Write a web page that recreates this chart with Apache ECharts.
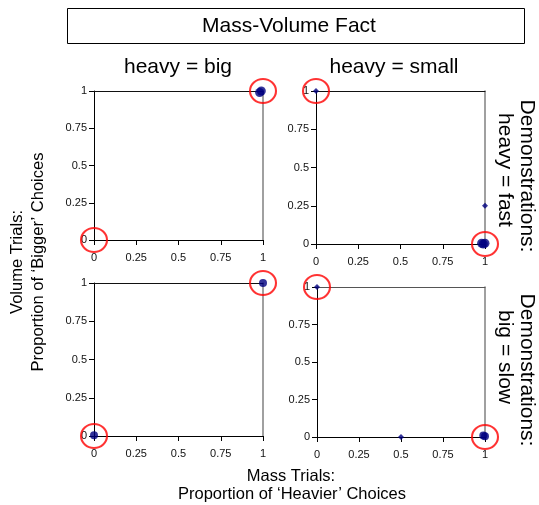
<!DOCTYPE html>
<html>
<head>
<meta charset="utf-8">
<script src="https://cdn.jsdelivr.net/npm/echarts@6/dist/echarts.min.js"></script>
<style>
html,body{margin:0;padding:0;background:#fff;}
#c{width:539px;height:505px;}
</style>
</head>
<body>
<div id="c"></div>
<script>
// ---- data ----
const chartTitle = 'Mass-Volume Fact';
const colTitles = ['heavy = big', 'heavy = small'];
const rowTitles = ['heavy = fast', 'big = slow'];
const rowHeader = 'Demonstrations:';
const xLabelLines = ['Mass Trials:', 'Proportion of \u2018Heavier\u2019 Choices'];
const yLabelLines = ['Volume Trials:', 'Proportion of \u2018Bigger\u2019 Choices'];
const tickValues = [0, 0.25, 0.5, 0.75, 1];

// panel 1: heavy = big / heavy = fast
const p1Single = [];
const p1Cluster = [[0.98, 0.99], [0.99, 1]];
const p1Rings = [[0, 0], [1, 1]];
// panel 2: heavy = small / heavy = fast
const p2Single = [[0, 1], [1, 0.25]];
const p2Cluster = [[0.98, 0.005], [1, 0.005], [0.99, 0]];
const p2Rings = [[0, 1], [1, 0]];
// panel 3: heavy = big / big = slow
const p3Single = [];
const p3Cluster = [[1, 1], [0, 0.005]];
const p3Rings = [[0, 0], [1, 1]];
// panel 4: heavy = small / big = slow
const p4Single = [[0, 1], [0.5, 0]];
const p4Cluster = [[0.99, 0.01], [1, 0.005]];
const p4Rings = [[0, 1], [1, 0]];

const panels = [
  {single: p1Single, cluster: p1Cluster, rings: p1Rings, clusterSize: 9},
  {single: p2Single, cluster: p2Cluster, rings: p2Rings, clusterSize: 9},
  {single: p3Single, cluster: p3Cluster, rings: p3Rings, clusterSize: 8},
  {single: p4Single, cluster: p4Cluster, rings: p4Rings, clusterSize: 8}
];

// ---- layout ----
const FONT = '"Liberation Sans", Arial, sans-serif';
const grids = [
  {left: 94, top: 91, width: 169, height: 149},
  {left: 316, top: 91, width: 169, height: 153},
  {left: 94, top: 283, width: 169, height: 153},
  {left: 317, top: 287, width: 168, height: 150}
];
const NAVY = '#000080';

const xAxes = [], yAxes = [], series = [];
grids.forEach((g, i) => {
  const labelStyle = {color: '#111', fontSize: 11, fontFamily: FONT};
  xAxes.push({
    gridIndex: i, type: 'value', min: 0, max: 1, interval: 0.25, position: 'bottom',
    axisLine: {onZero: false, lineStyle: {color: '#000', width: 1}},
    axisTick: {show: true, inside: false, length: 5, lineStyle: {color: '#000'}},
    axisLabel: Object.assign({margin: 12, formatter: v => String(v)}, labelStyle),
    splitLine: {show: false}
  });
  xAxes.push({
    gridIndex: i, type: 'value', min: 0, max: 1, position: 'top',
    axisLine: {show: true, onZero: false, lineStyle: {color: i === 3 ? '#555' : '#111', width: 1}},
    axisTick: {show: false}, axisLabel: {show: false}, splitLine: {show: false}
  });
  yAxes.push({
    gridIndex: i, type: 'value', min: 0, max: 1, interval: 0.25, position: 'left',
    axisLine: {show: true, onZero: false, lineStyle: {color: '#000', width: 1}},
    axisTick: {show: true, inside: false, length: 5, lineStyle: {color: '#000'}},
    axisLabel: Object.assign({margin: 7, formatter: v => String(v)}, labelStyle),
    splitLine: {show: false}
  });
  yAxes.push({
    gridIndex: i, type: 'value', min: 0, max: 1, position: 'right',
    axisLine: {show: true, onZero: false, lineStyle: {color: '#808080', width: 1.5}},
    axisTick: {show: false}, axisLabel: {show: false}, splitLine: {show: false}
  });
  const p = panels[i];
  series.push({
    type: 'scatter', xAxisIndex: i * 2, yAxisIndex: i * 2, data: p.cluster,
    symbol: 'circle', symbolSize: p.clusterSize, clip: false,
    itemStyle: {color: NAVY}, z: 3
  });
  series.push({
    type: 'scatter', xAxisIndex: i * 2, yAxisIndex: i * 2, data: p.single,
    symbol: 'diamond', symbolSize: 6, clip: false,
    itemStyle: {color: NAVY}, z: 3
  });
  series.push({
    type: 'scatter', xAxisIndex: i * 2, yAxisIndex: i * 2, data: p.rings,
    symbol: 'circle', symbolSize: [26, 24], clip: false, silent: true,
    itemStyle: {color: 'rgba(0,0,0,0)', borderColor: '#ff0000', borderWidth: 2}, z: 4
  });
});

const txt = (text, x, y, size, rot) => ({
  type: 'text', x: x, y: y, rotation: rot || 0, z: 10,
  style: {text: text, fontSize: size, fontFamily: FONT, fill: '#000', align: 'center', verticalAlign: 'middle'}
});

const graphic = [
  {type: 'rect', shape: {x: 67.5, y: 8.5, width: 457, height: 35}, style: {fill: '#fff', stroke: '#000', lineWidth: 1}, z: 1},
  txt(chartTitle, 289, 26, 21),
  txt(colTitles[0], 178, 67, 21),
  txt(colTitles[1], 394, 67, 21),
  txt(rowHeader, 527, 176, 21, -Math.PI / 2),
  txt(rowTitles[0], 505, 170, 21, -Math.PI / 2),
  txt(rowHeader, 527, 370, 21, -Math.PI / 2),
  txt(rowTitles[1], 505, 357, 21, -Math.PI / 2),
  txt(xLabelLines[0], 291, 476, 16.5),
  txt(xLabelLines[1], 292, 494, 16.5),
  txt(yLabelLines[0], 17.5, 262, 16.5, Math.PI / 2),
  txt(yLabelLines[1], 38.5, 262, 16.5, Math.PI / 2)
];

const chart = echarts.init(document.getElementById('c'), null, {renderer: 'canvas'});
chart.setOption({
  backgroundColor: '#fff',
  animation: false,
  textStyle: {fontFamily: FONT},
  grid: grids,
  xAxis: xAxes,
  yAxis: yAxes,
  series: series,
  graphic: graphic
});
</script>
</body>
</html>
